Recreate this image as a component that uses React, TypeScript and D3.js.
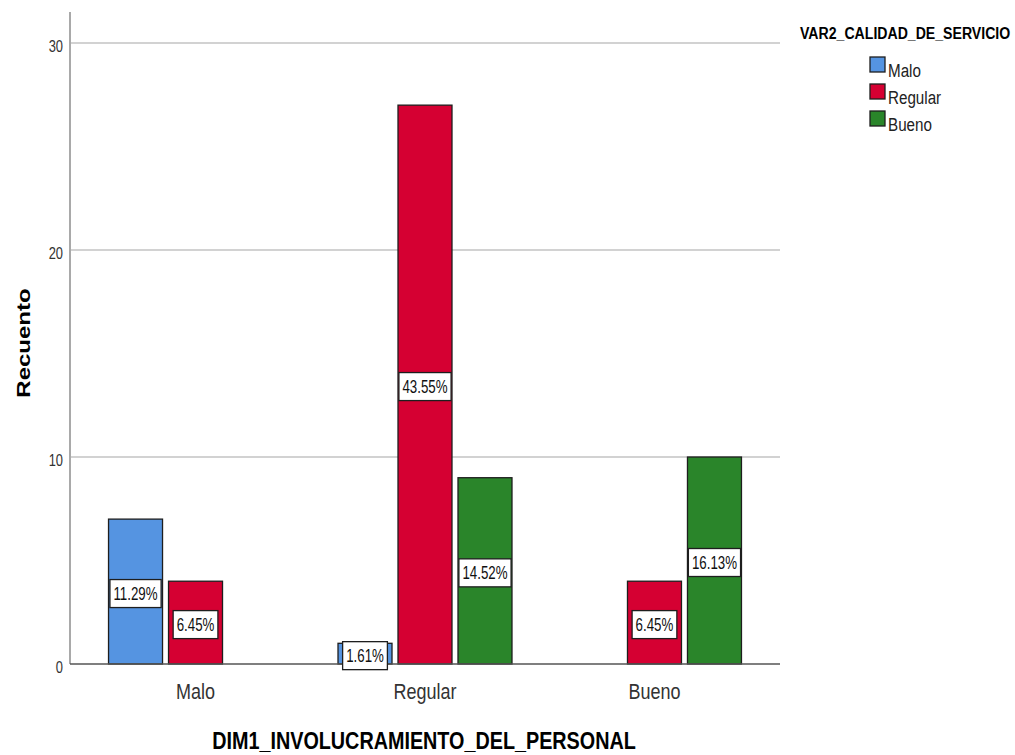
import React from 'react';
import * as d3 from 'd3';

// Category axis (DIM1) and legend series (VAR2)
const categories = ['Malo', 'Regular', 'Bueno'];
const seriesNames = ['Malo', 'Regular', 'Bueno'];
const seriesColors = ['#5594e1', '#d50032', '#2a852a'];

// Counts per series, one value per category
const malo = [7, 1, 0];
const regular = [4, 27, 4];
const bueno = [0, 9, 10];

const yTicks = [0, 10, 20, 30];

const W = 1015;
const H = 755;
const SX = 0.8; // default horizontal squeeze applied to text
const FONT = '"Liberation Sans", Arial, sans-serif';

function measure(text: string, size: number, bold = false): number {
  const c = document.createElement('canvas');
  const ctx = c.getContext('2d');
  if (!ctx) return text.length * size * 0.55;
  ctx.font = `${bold ? 'bold ' : ''}${size}px ${FONT}`;
  return ctx.measureText(text).width;
}

type TxtProps = {
  x: number;
  y: number;
  size: number;
  anchor?: 'start' | 'middle' | 'end';
  bold?: boolean;
  fill?: string;
  rotate?: number;
  sx?: number;
  children: string;
};

function Txt({ x, y, size, anchor = 'start', bold = false, fill = '#222', rotate = 0, sx = SX, children }: TxtProps) {
  return (
    <text
      transform={`translate(${x},${y}) scale(${sx},1)${rotate ? ` rotate(${rotate})` : ''}`}
      fontFamily={FONT}
      fontSize={size}
      fontWeight={bold ? 'bold' : 'normal'}
      textAnchor={anchor}
      fill={fill}
    >
      {children}
    </text>
  );
}

export default function App() {
  const seriesValues = [malo, regular, bueno];
  const total = d3.sum(seriesValues.flat());

  const plotLeft = 70;
  const plotRight = 780;
  const plotTop = 12;
  const plotBottom = 664;

  const x0 = d3.scaleBand<string>().domain(categories).range([plotLeft, plotRight]).paddingInner(0).paddingOuter(0.047);
  const x1 = d3
    .scaleBand<string>()
    .domain(seriesNames)
    .range([0, x0.bandwidth()])
    .paddingInner(0.1)
    .paddingOuter(0.4625);
  const y = d3.scaleLinear().domain([0, 31.5]).range([plotBottom, plotTop]);

  const bars = seriesNames
    .flatMap((s, si) => categories.map((c, ci) => ({ s, si, c, v: seriesValues[si][ci] })))
    .filter((d) => d.v > 0);

  const labelSize = 18;
  const labelSx = 0.74;

  return (
    <svg width={W} height={H} style={{ position: 'absolute', left: 0, top: 0, background: '#fff' }}>
      <rect x={0} y={0} width={W} height={H} fill="#fff" />

      {/* gridlines */}
      {yTicks
        .filter((t) => t > 0)
        .map((t) => (
          <line key={`g${t}`} x1={plotLeft + 1} x2={plotRight} y1={y(t)} y2={y(t)} stroke="#d2d2d2" strokeWidth={2} />
        ))}

      {/* y axis */}
      <line x1={plotLeft} x2={plotLeft} y1={plotTop} y2={plotBottom} stroke="#8c8c8c" strokeWidth={1.5} />
      {yTicks.map((t) => (
        <Txt key={`t${t}`} x={plotLeft - 7} y={y(t) + 9} size={17} sx={0.76} anchor="end" fill="#333">
          {String(t)}
        </Txt>
      ))}

      {/* bars */}
      {bars.map((d) => (
        <rect
          key={`b${d.s}${d.c}`}
          x={(x0(d.c) ?? 0) + (x1(d.s) ?? 0)}
          y={y(d.v)}
          width={x1.bandwidth()}
          height={y(0) - y(d.v)}
          fill={seriesColors[d.si]}
          stroke="#1e1e1e"
          strokeWidth={1.3}
        />
      ))}

      {/* baseline */}
      <line x1={plotLeft} x2={plotRight} y1={plotBottom} y2={plotBottom} stroke="#555" strokeWidth={1.5} />

      {/* percentage labels */}
      {bars.map((d) => {
        const label = `${((d.v / total) * 100).toFixed(2)}%`;
        const cx = (x0(d.c) ?? 0) + (x1(d.s) ?? 0) + x1.bandwidth() / 2;
        const cy = (y(d.v) + y(0)) / 2 + 2;
        const bw = measure(label, labelSize) * labelSx + 7;
        const bh = 28;
        return (
          <g key={`l${d.s}${d.c}`}>
            <rect x={cx - bw / 2} y={cy - bh / 2} width={bw} height={bh} fill="#fff" stroke="#1e1e1e" strokeWidth={1.3} />
            <Txt x={cx} y={cy + 6.5} size={labelSize} sx={labelSx} anchor="middle" fill="#111">
              {label}
            </Txt>
          </g>
        );
      })}

      {/* category labels */}
      {categories.map((c) => (
        <Txt key={`c${c}`} x={(x0(c) ?? 0) + x0.bandwidth() / 2} y={699} size={22.5} anchor="middle" fill="#333">
          {c}
        </Txt>
      ))}

      {/* axis titles */}
      <Txt x={424} y={749} size={23} sx={0.86} anchor="middle" bold fill="#000">
        DIM1_INVOLUCRAMIENTO_DEL_PERSONAL
      </Txt>
      <Txt x={30} y={343} size={24} anchor="middle" bold fill="#000" rotate={-90}>
        Recuento
      </Txt>

      {/* legend */}
      <Txt x={800} y={39} size={17} sx={0.83} bold fill="#000">
        VAR2_CALIDAD_DE_SERVICIO
      </Txt>
      {seriesNames.map((s, i) => (
        <g key={`lg${s}`}>
          <rect x={870} y={57 + i * 27} width={15} height={15} fill={seriesColors[i]} stroke="#1e1e1e" strokeWidth={1.3} />
          <Txt x={888} y={77 + i * 27} size={19} sx={0.8} fill="#222">
            {s}
          </Txt>
        </g>
      ))}
    </svg>
  );
}
